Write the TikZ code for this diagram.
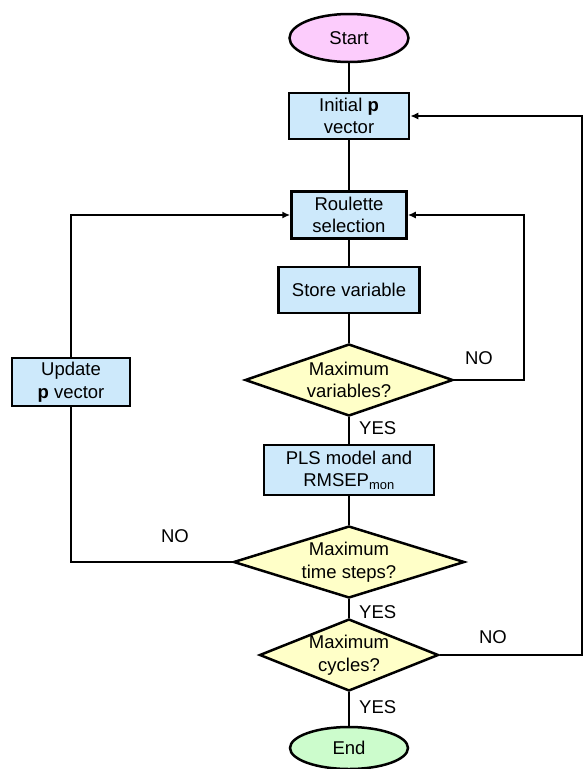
\documentclass[tikz,border=0pt]{standalone}
\usepackage{fontspec}
\setmainfont{Liberation Sans}
\usetikzlibrary{shapes.geometric,arrows.meta}
\definecolor{boxblue}{HTML}{CDE9FB}
\definecolor{diayellow}{HTML}{FFFFC8}
\definecolor{startpink}{HTML}{FCCCFC}
\definecolor{endgreen}{HTML}{CCFCCC}
\tikzset{
  every node/.style={font=\fontsize{18.5}{22.5}\selectfont},
  procbox/.style={draw=black, line width=2.5pt, fill=boxblue, rectangle, inner sep=0pt, align=center},
  decide/.style={draw=black, line width=2.5pt, fill=diayellow, diamond, inner sep=0pt},
  term/.style={draw=black, line width=2.5pt, ellipse, inner sep=0pt},
  conn/.style={line width=2.2pt},
  arr/.style={line width=2.2pt, -{Latex[length=8pt,width=7pt]}},
  lbl/.style={inner sep=0pt}
}
\begin{document}
\begin{tikzpicture}[x=1pt,y=-1pt]
\useasboundingbox (0,0) rectangle (584,769);
% terminals
\node[term, fill=startpink, minimum width=119pt, minimum height=48pt] (start) at (349,38) {Start};
\node[term, fill=endgreen, minimum width=118pt, minimum height=42pt] (end) at (349,748) {End};
% process boxes
\node[procbox, minimum width=120pt, minimum height=46pt] (init) at (349,116) {Initial \textbf{p}\\vector};
\node[procbox, minimum width=115pt, minimum height=47pt] (roul) at (349,215) {Roulette\\selection};
\node[procbox, minimum width=141pt, minimum height=46pt] (store) at (349,290) {Store variable};
\node[procbox, minimum width=170pt, minimum height=50pt] (pls) at (349,470) {PLS model and\\RMSEP\textsubscript{mon}};
\node[procbox, minimum width=118pt, minimum height=48pt] (upd) at (71,382) {Update\\\textbf{p} vector};
% decisions
\node[decide, minimum width=208pt, minimum height=72pt, label={[align=center]center:Maximum\\variables?}] (mv) at (349,380) {};
\node[decide, minimum width=231pt, minimum height=72pt, label={[align=center]center:Maximum\\time steps?}] (mt) at (349,562) {};
\node[decide, minimum width=179pt, minimum height=72pt, label={[align=center]center:Maximum\\cycles?}] (mc) at (349,655) {};
% helper coordinates for loop columns
\coordinate (rl) at (524,0);
\coordinate (ro) at (582,0);
% main spine
\draw[conn] (start) -- (init);
\draw[conn] (init) -- (roul);
\draw[conn] (roul) -- (store);
\draw[conn] (store) -- (mv);
\draw[conn] (mv) -- (pls);
\draw[conn] (pls) -- (mt);
\draw[conn] (mt) -- (mc);
\draw[conn] (mc) -- (end);
% loops
\draw[arr] (mv.east) -- (mv.east -| rl) |- (roul.east);
\draw[conn] (mt.west) -| (upd.south);
\draw[arr] (upd.north) |- (roul.west);
\draw[arr] (mc.east) -- (mc.east -| ro) |- (init.east);
% labels
\node[lbl, anchor=west] (y1) at (359,428) {YES};
\node[lbl, anchor=west] (y2) at (359,612) {YES};
\node[lbl, anchor=west] (y3) at (359,707) {YES};
\node[lbl] (n1) at (479,358) {NO};
\node[lbl] (n2) at (175,536) {NO};
\node[lbl] (n3) at (493,637) {NO};
\end{tikzpicture}
\end{document}
